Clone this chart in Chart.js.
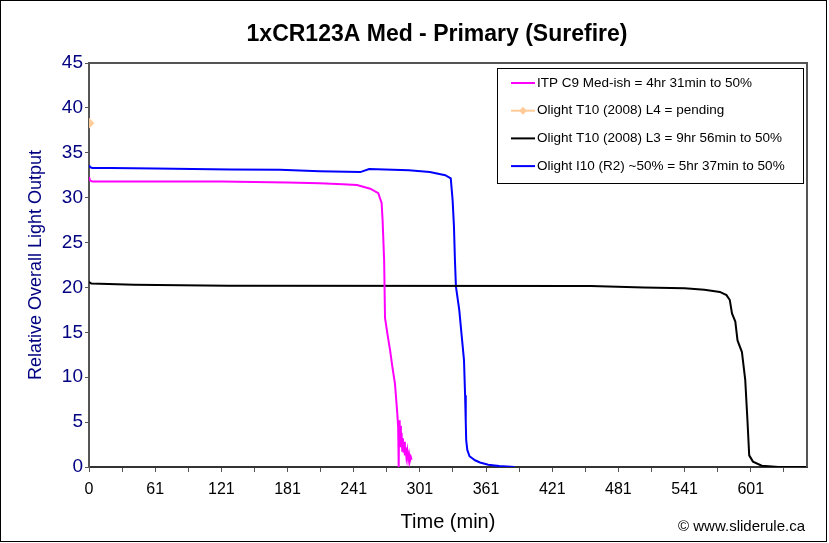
<!DOCTYPE html>
<html>
<head>
<meta charset="utf-8">
<script src="https://cdn.jsdelivr.net/npm/chart.js@4/dist/chart.umd.min.js"></script>
<style>
    html, body { margin: 0; padding: 0; background: #fff; }
    canvas { display: block; }
</style>
</head>
<body>
<canvas id="chart" width="829" height="543"></canvas>
<script>
// x is in minutes (category index), y is relative output
const X_TICK_LABELS = ['0', '61', '121', '181', '241', '301', '361', '421', '481', '541', '601'];

const C9_TIME = [0, 1, 3, 20, 60, 120, 180, 209, 230, 243, 255, 262.3, 265.3, 266.2, 267.6, 268.4, 271, 273, 275, 277.4, 279.5, 280.3, 280.8, 281.2, 281.7, 282.2, 282.8, 283.4, 284, 284.6, 285.2, 285.8, 286.4, 287, 287.8, 288.6, 289.4, 290.2, 291, 291.8, 292.5];
const C9_OUTPUT = [32.3, 31.9, 31.8, 31.8, 31.8, 31.8, 31.7, 31.6, 31.5, 31.4, 31.0, 30.5, 29.4, 27.5, 23.0, 16.6, 14.5, 13.0, 11.2, 9.3, 6.0, 4.5, 0, 5.2, 2.8, 4.6, 2.2, 3.8, 1.8, 3.2, 1.6, 2.8, 1.3, 2.2, 1.1, 1.8, 0.8, 1.4, 0.7, 1.1, 0.8];

const L4_TIME = [0];
const L4_OUTPUT = [38.3];

const L3_TIME = [0, 2, 41, 126, 455, 503, 540, 558, 572, 578, 581, 583, 586, 588, 592, 595, 597, 598.6, 602, 610, 625, 651];
const L3_OUTPUT = [20.6, 20.45, 20.3, 20.2, 20.15, 20.0, 19.9, 19.75, 19.5, 19.15, 18.6, 17.1, 16.2, 14.1, 12.8, 9.7, 5.2, 1.3, 0.6, 0.15, 0, 0];

const I10_TIME = [0, 1, 3, 20, 60, 128, 173, 209, 246, 254, 290, 309, 323, 328, 329.7, 330.9, 331.8, 332.7, 335.7, 338, 340, 341, 341.6, 342, 343, 345, 350, 354.5, 362, 372, 386];
const I10_OUTPUT = [33.6, 33.4, 33.3, 33.3, 33.25, 33.15, 33.1, 32.95, 32.85, 33.2, 33.05, 32.85, 32.5, 32.15, 29.7, 26.8, 23.0, 20.1, 17.5, 14.5, 11.9, 8.0, 5.0, 3.0, 1.9, 1.2, 0.75, 0.5, 0.25, 0.1, 0];

const TITLE = '1xCR123A Med - Primary (Surefire)';
const CREDIT = '\u00a9 www.sliderule.ca';
const FONT = "'Liberation Sans', Arial, sans-serif";
const NAVY = '#000080';

const points = (xs, ys) => xs.map((x, i) => ({ x, y: ys[i] }));

const series = [
    { label: 'ITP C9 Med-ish = 4hr 31min to 50%', time: C9_TIME, out: C9_OUTPUT, color: '#ff00ff' },
    { label: 'Olight T10 (2008) L4 = pending', time: L4_TIME, out: L4_OUTPUT, color: '#ffcc99', marker: true },
    { label: 'Olight T10 (2008) L3 = 9hr 56min to 50%', time: L3_TIME, out: L3_OUTPUT, color: '#000000' },
    { label: 'Olight I10 (R2) ~50% = 5hr 37min to 50%', time: I10_TIME, out: I10_OUTPUT, color: '#0000ff' },
];

const datasets = series.map((s) => ({
    label: s.label,
    data: points(s.time, s.out),
    borderColor: s.color,
    backgroundColor: s.color,
    borderWidth: 2,
    pointRadius: s.marker ? 4 : 0,
    pointStyle: 'rectRot',
    tension: 0,
    fill: false,
}));

// title, frame, plot border, legend box and credit
const decor = {
    id: 'decor',
    afterDraw(chart) {
        const ctx = chart.ctx;
        const a = chart.chartArea;
        ctx.save();

        ctx.fillStyle = '#000';
        ctx.font = 'bold 23px ' + FONT;
        ctx.textAlign = 'center';
        ctx.textBaseline = 'middle';
        ctx.fillText(TITLE, 437, 35);

        ctx.strokeStyle = '#555';
        ctx.lineWidth = 2;
        ctx.beginPath();
        ctx.moveTo(a.left, a.top);
        ctx.lineTo(a.right, a.top);
        ctx.lineTo(a.right, a.bottom);
        ctx.stroke();

        ctx.strokeStyle = '#000';
        ctx.lineWidth = 1;
        ctx.strokeRect(0.5, 0.5, 826, 541);

        // legend
        const lx = 497.5, ly = 68.5, lw = 306, lh = 115;
        ctx.fillStyle = '#fff';
        ctx.fillRect(lx, ly, lw, lh);
        ctx.strokeStyle = '#000';
        ctx.strokeRect(lx, ly, lw, lh);
        ctx.font = '13.5px ' + FONT;
        ctx.textBaseline = 'middle';
        ctx.textAlign = 'left';
        chart.data.datasets.forEach((ds, i) => {
            const y = 83 + i * 27.7;
            ctx.strokeStyle = ds.borderColor;
            ctx.lineWidth = 2;
            ctx.beginPath();
            ctx.moveTo(511, y);
            ctx.lineTo(535, y);
            ctx.stroke();
            if (series[i].marker) {
                ctx.fillStyle = ds.borderColor;
                ctx.beginPath();
                ctx.moveTo(523, y - 4);
                ctx.lineTo(527, y);
                ctx.lineTo(523, y + 4);
                ctx.lineTo(519, y);
                ctx.closePath();
                ctx.fill();
            }
            ctx.fillStyle = '#000';
            ctx.fillText(ds.label, 537, y);
        });

        ctx.font = '15px ' + FONT;
        ctx.textAlign = 'right';
        ctx.fillStyle = '#000';
        ctx.fillText(CREDIT, 805, 527);
        ctx.restore();
    },
};

new Chart(document.getElementById('chart'), {
    type: 'line',
    data: { datasets },
    plugins: [decor],
    options: {
        responsive: false,
        animation: false,
        layout: { padding: { top: 63, right: 22, bottom: 0, left: 0 } },
        plugins: {
            legend: { display: false },
            tooltip: { enabled: false },
            title: { display: false },
        },
        scales: {
            x: {
                type: 'linear',
                min: 0,
                max: 651,
                afterFit: (scale) => { scale.height = 76; },
                border: { display: true, color: '#333', width: 2 },
                grid: { display: true, drawOnChartArea: false, drawTicks: true, tickLength: 5, color: '#555' },
                ticks: {
                    stepSize: 30,
                    includeBounds: false,
                    autoSkip: false,
                    maxRotation: 0,
                    padding: 8,
                    color: '#000',
                    font: { family: FONT, size: 16 },
                    callback: (v) => (v % 60 === 0 ? X_TICK_LABELS[v / 60] : ''),
                },
                title: {
                    display: true,
                    text: 'Time (min)',
                    color: '#000',
                    font: { family: FONT, size: 20 },
                    padding: { top: 0, bottom: 9 },
                },
            },
            y: {
                min: 0,
                max: 45,
                afterFit: (scale) => { scale.width = 89; },
                border: { display: true, color: '#555', width: 2 },
                grid: { display: true, drawOnChartArea: false, drawTicks: true, tickLength: 4, color: '#555' },
                ticks: {
                    stepSize: 5,
                    padding: 2,
                    color: NAVY,
                    font: { family: FONT, size: 19 },
                },
                title: {
                    display: true,
                    text: 'Relative Overall Light Output',
                    color: NAVY,
                    font: { family: FONT, size: 18 },
                    padding: { top: 25, bottom: 0 },
                },
            },
        },
    },
});
</script>
</body>
</html>
